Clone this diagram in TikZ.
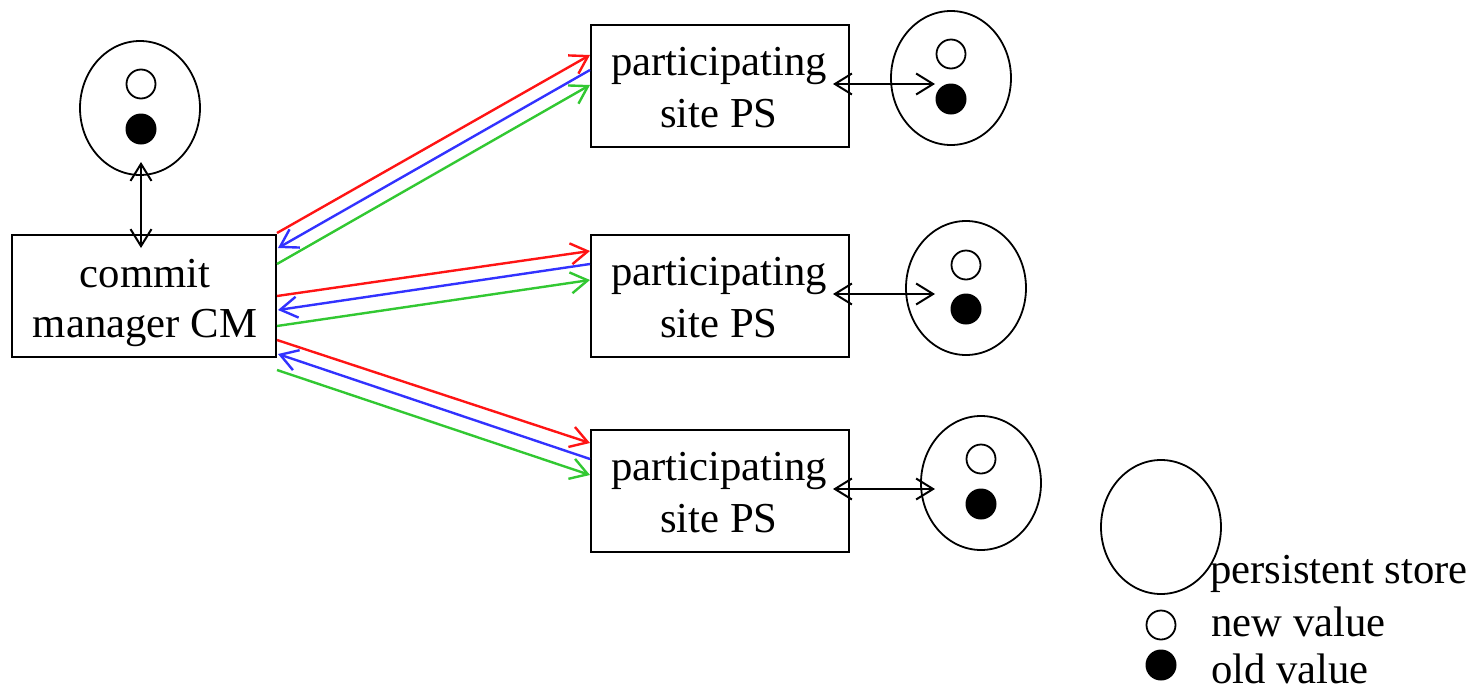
\documentclass[tikz,border=0pt]{standalone}
\usepackage{fontspec}
\setmainfont{Liberation Serif}
\usetikzlibrary{shapes.geometric,arrows.meta}
\definecolor{ared}{RGB}{255,20,20}
\definecolor{ablue}{RGB}{50,50,255}
\definecolor{agreen}{RGB}{50,200,50}
\begin{document}
\begin{tikzpicture}[x=1pt,y=-1pt,
  every node/.style={font=\fontsize{42.7}{51}\selectfont},
  box/.style={draw,line width=2pt,minimum height=122pt,inner sep=0pt},
  txt/.style={anchor=base,inner sep=0pt},
  store/.style={draw,ellipse,line width=1.8pt,minimum width=120pt,minimum height=134pt,inner sep=0pt},
  newv/.style={draw,circle,line width=1.8pt,minimum size=29pt,inner sep=0pt},
  oldv/.style={fill,circle,minimum size=31pt,inner sep=0pt},
  barbtip/.tip={Straight Barb[length=17pt,width=21pt]},
  link/.style={line width=2pt,{barbtip}-{barbtip}},
  msg/.style={line width=2.4pt,-{barbtip}},
]
\useasboundingbox (0,0) rectangle (1473,691);
% boxes
\node[box,minimum width=264pt] (cm) at (144,296) {};
\node[txt] (cmt1) at (145,287) {commit};
\node[txt] (cmt2) at (145,337) {manager CM};
\node[box,minimum width=258pt] (ps1) at (720,86) {};
\node[txt] (ps1t1) at (719,75) {participating};
\node[txt] (ps1t2) at (719,127) {site PS};
\node[box,minimum width=258pt] (ps2) at (720,296) {};
\node[txt] (ps2t1) at (719,285) {participating};
\node[txt] (ps2t2) at (719,337) {site PS};
\node[box,minimum width=258pt] (ps3) at (720,491) {};
\node[txt] (ps3t1) at (719,480) {participating};
\node[txt] (ps3t2) at (719,532) {site PS};
% stores
\node[store] (s0) at (140,108) {};
\node[newv] (n0) at (141,84) {};
\node[oldv] (o0) at (141,129) {};
\node[store] (s1) at (951,78) {};
\node[newv] (n1) at (951,54) {};
\node[oldv] (o1) at (951,99) {};
\node[store] (s2) at (966,288) {};
\node[newv] (n2) at (966,265) {};
\node[oldv] (o2) at (966,309) {};
\node[store] (s3) at (981,483) {};
\node[newv] (n3) at (981,459) {};
\node[oldv] (o3) at (981,504) {};
% link endpoints
\coordinate (l0a) at (141,162); \coordinate (l0b) at (141,248);
\coordinate (l1a) at (833,84); \coordinate (l1b) at (935,84);
\coordinate (l2a) at (833,294); \coordinate (l2b) at (935,294);
\coordinate (l3a) at (833,489); \coordinate (l3b) at (935,489);
\draw[link] (l0a) -- (l0b);
\draw[link] (l1a) -- (l1b);
\draw[link] (l2a) -- (l2b);
\draw[link] (l3a) -- (l3b);
% message endpoints
\coordinate (a1r) at (277,233); \coordinate (b1r) at (590,55);
\coordinate (a1b) at (278,248); \coordinate (b1b) at (590,70);
\coordinate (a1g) at (277,264); \coordinate (b1g) at (590,85);
\coordinate (a2r) at (277,296); \coordinate (b2r) at (590,251);
\coordinate (a2b) at (278,310); \coordinate (b2b) at (590,264);
\coordinate (a2g) at (277,326); \coordinate (b2g) at (590,280);
\coordinate (a3r) at (277,340); \coordinate (b3r) at (590,443);
\coordinate (a3b) at (278,354); \coordinate (b3b) at (590,459);
\coordinate (a3g) at (277,370); \coordinate (b3g) at (590,475);
\draw[msg,ared] (a1r) -- (b1r);
\draw[msg,ablue] (b1b) -- (a1b);
\draw[msg,agreen] (a1g) -- (b1g);
\draw[msg,ared] (a2r) -- (b2r);
\draw[msg,ablue] (b2b) -- (a2b);
\draw[msg,agreen] (a2g) -- (b2g);
\draw[msg,ared] (a3r) -- (b3r);
\draw[msg,ablue] (b3b) -- (a3b);
\draw[msg,agreen] (a3g) -- (b3g);
% legend
\node[store] (ls) at (1161,527) {};
\node[anchor=base west,inner sep=0pt] (lt1) at (1210,583) {persistent store};
\node[newv] (ln) at (1161,625) {};
\node[anchor=base west,inner sep=0pt] (lt2) at (1211,636) {new value};
\node[oldv] (lo) at (1161,665) {};
\node[anchor=base west,inner sep=0pt] (lt3) at (1211,683) {old value};
\end{tikzpicture}
\end{document}
